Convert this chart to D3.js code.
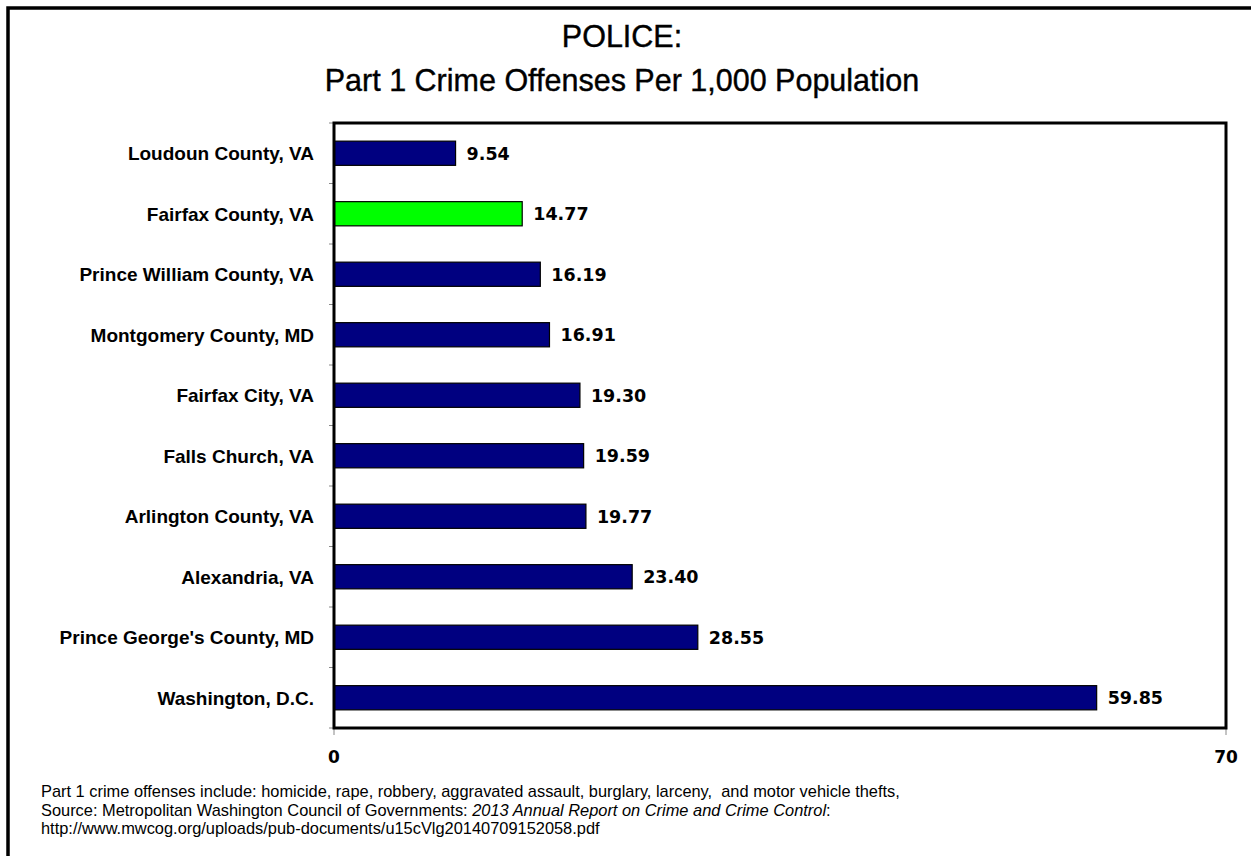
<!DOCTYPE html>
<html>
<head>
<meta charset="utf-8" />
<title>Police Part 1 Crime Offenses</title>
<script src="https://d3js.org/d3.v7.min.js"></script>
<style type="text/css">
    body { margin: 0; background: #fff; }
    text { font-family: "Liberation Sans", Arial, sans-serif; fill: #000; }
    .cat { font-size: 19px; font-weight: bold; }
    .val { font-family: "DejaVu Sans", sans-serif; font-size: 17.5px; font-weight: bold; }
    .tick-lbl { font-family: "DejaVu Sans", sans-serif; font-size: 17px; font-weight: bold; }
    .note { font-size: 16.4px; }
</style>
</head>
<body>
<script>
    // data
    var jurisdictions = ['Loudoun County, VA', 'Fairfax County, VA', 'Prince William County, VA',
        'Montgomery County, MD', 'Fairfax City, VA', 'Falls Church, VA', 'Arlington County, VA',
        'Alexandria, VA', "Prince George's County, MD", 'Washington, D.C.'];
    var offenses = [9.54, 14.77, 16.19, 16.91, 19.30, 19.59, 19.77, 23.40, 28.55, 59.85];
    var highlight = 'Fairfax County, VA';
    var xTicks = [0, 70];

    var width = 1251, height = 856
        , plotL = 334, plotR = 1226, plotT = 123, plotB = 728
        , formatter = d3.format('.2f');

    var svg = d3.select('body').append('svg')
        .attr('width', width)
        .attr('height', height);

    svg.append('rect').attr('width', width).attr('height', height).attr('fill', '#fff');

    // outer frame (only top/left show in picture)
    svg.append('path')
        .attr('d', `M8,${height + 5} L8,8 L${width + 5},8`)
        .attr('fill', 'none')
        .attr('stroke', '#000')
        .attr('stroke-width', 3.5);

    // title
    var title = svg.append('text')
        .attr('text-anchor', 'middle')
        .style('font-size', '30.5px')
        .style('stroke', '#000')
        .style('stroke-width', 0.4);
    title.append('tspan').attr('x', 622).attr('y', 47).text('POLICE:');
    title.append('tspan').attr('x', 622).attr('y', 91).text('Part 1 Crime Offenses Per 1,000 Population');

    var x = d3.scaleLinear()
        .domain([0, 70])
        .range([plotL, plotR]);

    var y = d3.scaleBand()
        .domain(jurisdictions)
        .range([plotT, plotB])
        .paddingInner(0.6)
        .paddingOuter(0.3);

    // category ticks at band boundaries
    var step = y.step();
    svg.append('g').selectAll('line')
        .data(d3.range(jurisdictions.length + 1))
        .enter()
        .append('line')
        .attr('x1', plotL - 5).attr('x2', plotL)
        .attr('y1', i => plotT + i * step).attr('y2', i => plotT + i * step)
        .attr('stroke', '#888').attr('stroke-width', 1);

    // x axis ticks + labels
    var ax = svg.append('g').selectAll('g')
        .data(xTicks)
        .enter()
        .append('g')
        .attr('transform', d => `translate(${x(d)},${plotB})`);
    ax.append('line').attr('y1', 0).attr('y2', 7).attr('stroke', '#888');
    ax.append('text')
        .attr('class', 'tick-lbl')
        .attr('text-anchor', 'middle')
        .attr('y', 35)
        .text(String);

    // bars
    svg.append('g').selectAll('rect')
        .data(offenses)
        .enter()
        .append('rect')
        .attr('x', x(0))
        .attr('y', (d, i) => y(jurisdictions[i]))
        .attr('width', d => x(d) - x(0))
        .attr('height', y.bandwidth())
        .attr('fill', (d, i) => jurisdictions[i] === highlight ? '#00FF00' : '#000080')
        .attr('stroke', '#000')
        .attr('stroke-width', 1.2);

    // value labels
    svg.append('g').selectAll('text')
        .data(offenses)
        .enter()
        .append('text')
        .attr('class', 'val')
        .attr('x', d => x(d) + 11)
        .attr('y', (d, i) => y(jurisdictions[i]) + y.bandwidth() / 2)
        .attr('dy', '0.36em')
        .text(formatter);

    // category labels
    svg.append('g').selectAll('text')
        .data(jurisdictions)
        .enter()
        .append('text')
        .attr('class', 'cat')
        .attr('text-anchor', 'end')
        .attr('x', plotL - 20)
        .attr('y', d => y(d) + y.bandwidth() / 2)
        .attr('dy', '0.36em')
        .text(d => d);

    // plot frame
    svg.append('rect')
        .attr('x', plotL).attr('y', plotT)
        .attr('width', plotR - plotL).attr('height', plotB - plotT)
        .attr('fill', 'none')
        .attr('stroke', '#000')
        .attr('stroke-width', 3);

    // footnote
    var note = svg.append('text').attr('class', 'note');
    note.append('tspan').attr('x', 41).attr('y', 797)
        .text('Part 1 crime offenses include: homicide, rape, robbery, aggravated assault, burglary, larceny,\u00a0 and motor vehicle thefts,');
    note.append('tspan').attr('x', 41).attr('y', 816)
        .text('Source: Metropolitan Washington Council of Governments: ');
    note.append('tspan').style('font-style', 'italic').text('2013 Annual Report on Crime and Crime Control');
    note.append('tspan').text(':');
    note.append('tspan').attr('x', 41).attr('y', 834)
        .text('http://www.mwcog.org/uploads/pub-documents/u15cVlg20140709152058.pdf');
</script>
</body>
</html>
